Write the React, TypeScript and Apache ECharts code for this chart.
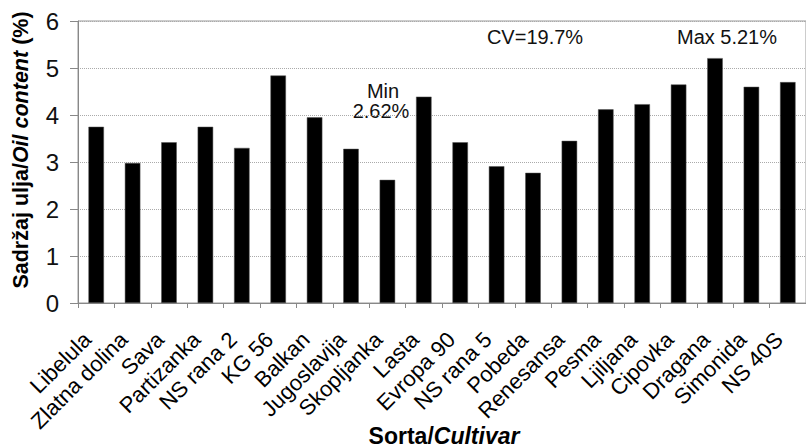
import React, { useEffect, useRef } from "react";
import * as echarts from "echarts";

const cultivars = [
  "Libelula", "Zlatna dolina", "Sava", "Partizanka", "NS rana 2", "KG 56",
  "Balkan", "Jugoslavija", "Skopljanka", "Lasta", "Evropa 90", "NS rana 5",
  "Pobeda", "Renesansa", "Pesma", "Ljiljana", "Cipovka", "Dragana",
  "Simonida", "NS 40S",
];
const oilContent = [
  3.75, 2.98, 3.42, 3.75, 3.30, 4.84, 3.95, 3.28, 2.62, 4.39,
  3.42, 2.91, 2.77, 3.45, 4.12, 4.23, 4.65, 5.21, 4.60, 4.70,
];
const yTicks = { min: 0, max: 6, interval: 1 };
const annotations = ["Min", "2.62%", "CV=19.7%", "Max 5.21%"];

const FONT = "'Liberation Sans', Arial, sans-serif";

export default function App() {
  const ref = useRef<HTMLDivElement>(null);
  useEffect(() => {
    if (!ref.current) return;
    const chart = echarts.init(ref.current, undefined, { renderer: "svg" });
    const annoStyle = (text: string) => ({
      text,
      fill: "#111",
      font: `20px ${FONT}`,
      align: "center",
      verticalAlign: "middle",
    });
    chart.setOption({
      animation: false,
      backgroundColor: "#fff",
      grid: {
        left: 78,
        top: 21,
        width: 732,
        height: 282,
        show: true,
        borderColor: "#999",
        borderWidth: 1,
        backgroundColor: "transparent",
      },
      xAxis: {
        type: "category",
        data: cultivars,
        boundaryGap: true,
        axisLine: { show: true, lineStyle: { color: "#888", width: 1 } },
        axisTick: { show: true, length: 5, alignWithLabel: false, lineStyle: { color: "#888" } },
        axisLabel: {
          interval: 0,
          rotate: 45,
          margin: 24,
          fontSize: 22,
          color: "#000",
          fontFamily: FONT,
          padding: [0, 12.5, 0, 0],
        },
        splitLine: { show: false },
      },
      yAxis: {
        type: "value",
        min: yTicks.min,
        max: yTicks.max,
        interval: yTicks.interval,
        axisLine: { show: true, lineStyle: { color: "#888", width: 1 } },
        axisTick: { show: true, length: 8, lineStyle: { color: "#888" } },
        axisLabel: { fontSize: 24, color: "#111", fontFamily: FONT, margin: 19 },
        splitLine: { show: true, lineStyle: { color: "#aaa", type: "dotted", width: 1 } },
      },
      series: [
        {
          type: "bar",
          data: oilContent,
          barWidth: 15.5,
          itemStyle: { color: "#000", borderColor: "#555", borderWidth: 0.5 },
        },
      ],
      graphic: [
        {
          type: "text",
          x: 21,
          y: 150,
          rotation: Math.PI / 2,
          style: {
            text: "{b|Sadržaj ulja/}{bi|Oil content}{b| (%)}",
            align: "center",
            verticalAlign: "middle",
            rich: {
              b: { fontSize: 21.5, fontWeight: "bold", fontFamily: FONT, fill: "#000" },
              bi: { fontSize: 21.5, fontWeight: "bold", fontStyle: "italic", fontFamily: FONT, fill: "#000" },
            },
          },
        },
        {
          type: "text",
          x: 444,
          y: 436,
          style: {
            text: "{b|Sorta/}{bi|Cultivar}",
            align: "center",
            verticalAlign: "middle",
            rich: {
              b: { fontSize: 23, fontWeight: "bold", fontFamily: FONT, fill: "#000" },
              bi: { fontSize: 23, fontWeight: "bold", fontStyle: "italic", fontFamily: FONT, fill: "#000" },
            },
          },
        },
        { type: "text", x: 383, y: 91, style: annoStyle(annotations[0]) },
        { type: "text", x: 381, y: 111, style: annoStyle(annotations[1]) },
        { type: "text", x: 535, y: 37, style: annoStyle(annotations[2]) },
        { type: "text", x: 727, y: 37, style: annoStyle(annotations[3]) },
      ],
    });
    return () => chart.dispose();
  }, []);
  return (
    <div
      ref={ref}
      style={{ position: "fixed", left: 0, top: 0, width: 806, height: 448, background: "#fff" }}
    />
  );
}
